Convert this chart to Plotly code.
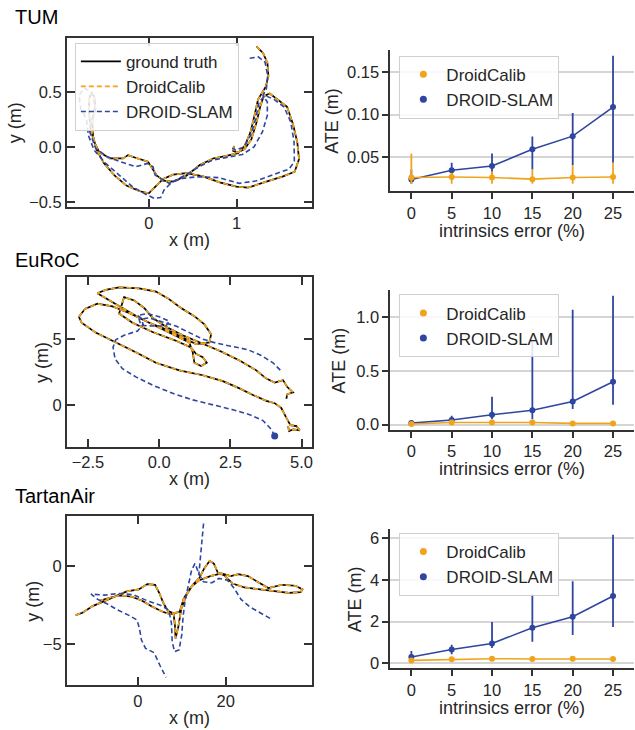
import plotly.graph_objects as go

# ---------------- data ----------------
# TUM trajectories (m)
tum_gt_x = [1.224, 1.299, 1.349, 1.360, 1.330, 1.280, 1.242, 1.205, 1.155, 1.091, 1.015, 0.883, 0.731, 0.580, 0.428, 0.277, 0.163, 0.087, -0.008, -0.159, -0.235, -0.292, -0.443, -0.565, -0.625, -0.663, -0.678, -0.678, -0.652, -0.614, -0.606, -0.640, -0.633, -0.595, -0.511, -0.386, -0.254, -0.102, 0.000, 0.068, 0.163, 0.277, 0.428, 0.617, 0.807, 0.996, 1.129, 1.337, 1.527, 1.659, 1.708, 1.689, 1.640, 1.572, 1.470, 1.375, 1.307, 1.269, 1.224, 1.167, 1.091, 1.004, 0.958, 0.970]
tum_gt_y = [0.913, 0.853, 0.763, 0.643, 0.547, 0.486, 0.432, 0.297, 0.132, 0.012, -0.054, -0.078, -0.102, -0.162, -0.258, -0.312, -0.303, -0.252, -0.132, -0.093, -0.072, -0.102, -0.102, -0.042, 0.057, 0.177, 0.312, 0.432, 0.498, 0.448, 0.342, 0.252, 0.102, -0.018, -0.144, -0.258, -0.348, -0.399, -0.417, -0.363, -0.288, -0.249, -0.234, -0.264, -0.318, -0.357, -0.366, -0.312, -0.264, -0.222, -0.108, 0.042, 0.207, 0.366, 0.432, 0.486, 0.462, 0.372, 0.222, 0.072, -0.018, -0.048, -0.033, 0.012]
tum_dc_x = list(tum_gt_x)
tum_dc_y = list(tum_gt_y)
tum_ds_x = [1.148, 1.246, 1.322, 1.352, 1.337, 1.299, 1.348, 1.348, 1.292, 1.197, 1.064, 0.913, 0.723, 0.572, 0.420, 0.269, 0.174, 0.136, 0.061, -0.034, -0.186, -0.337, -0.489, -0.621, -0.686, -0.708, -0.773, -0.792, -0.735, -0.648, -0.610, -0.640, -0.670, -0.602, -0.470, -0.318, -0.148, -0.015, 0.049, 0.072, 0.231, 0.383, 0.572, 0.799, 1.027, 1.216, 1.424, 1.595, 1.655, 1.652, 1.614, 1.538, 1.424, 1.322, 1.254, 1.216, 1.159, 1.083, 0.989, 0.951]
tum_ds_y = [0.805, 0.817, 0.769, 0.649, 0.529, 0.468, 0.408, 0.288, 0.138, 0.003, -0.066, -0.087, -0.117, -0.177, -0.252, -0.312, -0.387, -0.456, -0.462, -0.426, -0.357, -0.252, -0.147, -0.027, 0.108, 0.258, 0.348, 0.468, 0.535, 0.498, 0.378, 0.258, 0.138, -0.012, -0.087, -0.132, -0.177, -0.147, -0.177, -0.252, -0.327, -0.282, -0.267, -0.276, -0.327, -0.306, -0.246, -0.198, -0.132, 0.048, 0.228, 0.363, 0.432, 0.468, 0.408, 0.258, 0.108, 0.003, -0.027, -0.006]

# EuRoC trajectories (m)
eu_gt_x = [4.527, 4.562, 4.703, 4.938, 4.821, 4.609, 4.468, 4.292, 4.057, 3.763, 3.293, 2.823, 2.236, 1.531, 0.708, -0.115, -0.820, -1.525, -2.230, -2.723, -2.817, -2.606, -2.171, -1.642, -1.055, -0.350, 0.238, 0.826, 1.296, 1.766, 1.824, 1.589, 1.237, 0.767, 0.297, -0.115, -0.702, -1.407, -1.877, -2.171, -1.760, -1.290, -0.702, 0.003, 0.590, 1.060, 1.178, 1.237, 1.472, 1.672, 1.531, 1.296, 1.119, 0.590, -0.232, -0.937, -1.407, -1.231, -0.878, -0.526, -0.232, 0.238, 0.826, 1.413, 2.118, 2.823, 3.411, 3.763, 4.057, 4.351, 4.492, 4.703, 4.492, 4.468]
eu_gt_y = [-1.625, -2.0, -1.875, -1.95, -1.625, -1.55, -1.0, -0.25, 0.125, 0.3, 0.75, 1.25, 1.8, 2.25, 2.625, 3.2, 4.0, 4.75, 5.5, 6.25, 6.7, 7.3, 7.7, 7.5, 7.0, 6.25, 5.75, 5.125, 4.625, 4.75, 5.375, 6.125, 6.75, 7.375, 8.125, 8.625, 8.875, 8.95, 8.75, 8.5, 8.0, 7.375, 6.625, 5.875, 5.2, 4.75, 4.0, 3.2, 2.95, 3.2, 3.625, 3.875, 4.375, 4.875, 5.55, 6.25, 6.95, 8.2, 7.95, 7.375, 6.625, 5.95, 5.3, 4.75, 4.125, 3.375, 2.625, 2.0, 1.7, 1.875, 1.375, 0.95, 0.8, 0.45]
eu_dc_x = list(eu_gt_x)
eu_dc_y = list(eu_gt_y)
eu_ds_x = [4.057, 3.939, 3.646, 3.176, 2.588, 1.883, 1.178, 0.473, -0.232, -0.820, -1.290, -1.548, -1.619, -1.525, -1.231, -0.761, -0.561, -0.643, -0.761, -0.408, 0.003, 0.355, 0.238, -0.232, -0.643, -0.702, -0.350, 0.120, 0.590, 1.060, 1.531, 2.001, 2.588, 3.117, 3.587, 3.998, 4.292]
eu_ds_y = [-2.375, -1.875, -1.2, -0.75, -0.375, 0.0, 0.375, 0.875, 1.5, 2.125, 2.75, 3.5, 4.375, 4.95, 5.3, 5.625, 6.125, 6.625, 6.8, 6.95, 6.7, 6.375, 6.0, 6.0, 6.05, 6.5, 6.625, 6.3, 6.0, 5.5, 5.0, 4.7, 4.45, 4.2, 3.75, 3.2, 2.55]

# TartanAir trajectories (m)
ta_gt_x = [-14.11, -12.56, -10.23, -7.52, -5.19, -2.48, 0.23, 2.17, 3.95, 4.88, 5.81, 6.82, 8.14, 8.45, 8.60, 9.22, 9.92, 11.09, 12.48, 14.03, 15.12, 16.36, 17.29, 18.22, 19.61, 21.55, 24.26, 27.75, 31.24, 34.34, 37.05, 37.44, 35.89, 32.79, 29.69, 27.36, 25.04, 22.87, 21.16, 18.99, 16.51, 14.03, 12.02, 10.47, 9.53, 7.36, 5.66, 3.33, 1.01, -1.32, -4.03, -6.36, -8.68]
ta_gt_y = [-3.136, -2.987, -2.564, -2.225, -1.928, -1.631, -1.504, -1.165, -1.208, -1.716, -2.352, -2.860, -3.030, -3.771, -4.619, -3.877, -2.712, -1.864, -1.229, -0.763, -0.169, 0.318, 0.148, -0.445, -0.593, -1.123, -1.377, -1.504, -1.589, -1.716, -1.674, -1.504, -1.271, -1.208, -1.419, -1.017, -0.657, -0.530, -0.657, -0.487, -0.657, -0.911, -1.377, -2.076, -2.924, -3.072, -2.924, -2.606, -2.225, -1.970, -1.886, -2.034, -2.225]
ta_dc_x = list(ta_gt_x)
ta_dc_y = list(ta_gt_y)
ta_ds_x = [30.08, 27.75, 25.43, 23.49, 21.94, 20.39, 18.45, 16.90, 14.96, 14.03, 13.02, 12.25, 11.47, 10.78, 10.31, 10.00, 9.38, 8.37, 7.83, 7.67, 7.05, 5.27, 2.17, -0.93, -4.42, -7.52, -10.62, -9.07, -7.13, -4.81, -2.09, -0.16, 0.39, 0.85, 1.78, 3.72, 5.12, 6.43, None, 14.96, 14.57, 14.19, 13.88]
ta_ds_y = [-3.347, -2.987, -2.606, -2.140, -1.441, -0.911, -0.805, -1.081, -1.017, -0.593, 0.148, -0.275, -1.229, -2.182, -3.242, -4.407, -5.360, -5.466, -4.831, -3.665, -2.818, -2.521, -2.225, -1.843, -1.758, -1.864, -1.801, -2.140, -2.394, -2.775, -3.136, -3.453, -3.983, -4.725, -5.254, -5.530, -6.377, -7.097, None, 2.691, 1.631, 0.360, -0.593]

# ATE vs intrinsics error
err_pct = [0, 5, 10, 15, 20, 25]
tum_dc_mean = [0.0255, 0.026, 0.0255, 0.0235, 0.0255, 0.026]
tum_dc_lo = [0.0176, 0.018, 0.018, 0.018, 0.018, 0.018]
tum_dc_hi = [0.054, 0.031, 0.033, 0.035, 0.040, 0.043]
tum_ds_mean = [0.023, 0.034, 0.039, 0.059, 0.0745, 0.109]
tum_ds_lo = [0.018, 0.0255, 0.0255, 0.035, 0.040, 0.043]
tum_ds_hi = [0.035, 0.043, 0.054, 0.074, 0.102, 0.170]

eu_dc_mean = [0.006, 0.02, 0.02, 0.02, 0.012, 0.012]
eu_dc_lo = [0.0, 0.01, 0.01, 0.01, 0.005, 0.005]
eu_dc_hi = [0.015, 0.03, 0.03, 0.03, 0.02, 0.02]
eu_ds_mean = [0.015, 0.043, 0.092, 0.135, 0.215, 0.40]
eu_ds_lo = [0.008, 0.02, 0.05, 0.05, 0.145, 0.185]
eu_ds_hi = [0.03, 0.083, 0.26, 0.79, 1.07, 1.20]

ta_dc_mean = [0.14, 0.19, 0.22, 0.21, 0.22, 0.21]
ta_dc_lo = [0.08, 0.12, 0.14, 0.14, 0.15, 0.14]
ta_dc_hi = [0.25, 0.30, 0.32, 0.31, 0.32, 0.30]
ta_ds_mean = [0.30, 0.66, 0.95, 1.71, 2.23, 3.23]
ta_ds_lo = [0.14, 0.43, 0.74, 1.03, 1.36, 1.74]
ta_ds_hi = [0.59, 0.89, 1.98, 3.32, 3.94, 6.17]

dataset_names = ["TUM", "EuRoC", "TartanAir"]
series_names = ["ground truth", "DroidCalib", "DROID-SLAM"]

# ---------------- style ----------------
FONT = "Liberation Sans, Arial, Helvetica, sans-serif"
TXT = "#262626"
ORANGE = "#EFA41C"
BLUE = "#2F46A0"
SPINE = "#333333"
W, H = 635, 730

def px_x(p):
    return p / W

def px_y(p):
    return 1 - p / H

fig = go.Figure()

traj_sets = [
    (tum_gt_x, tum_gt_y, tum_dc_x, tum_dc_y, tum_ds_x, tum_ds_y),
    (eu_gt_x, eu_gt_y, eu_dc_x, eu_dc_y, eu_ds_x, eu_ds_y),
    (ta_gt_x, ta_gt_y, ta_dc_x, ta_dc_y, ta_ds_x, ta_ds_y),
]
ate_sets = [
    (tum_dc_mean, tum_dc_lo, tum_dc_hi, tum_ds_mean, tum_ds_lo, tum_ds_hi),
    (eu_dc_mean, eu_dc_lo, eu_dc_hi, eu_ds_mean, eu_ds_lo, eu_ds_hi),
    (ta_dc_mean, ta_dc_lo, ta_dc_hi, ta_ds_mean, ta_ds_lo, ta_ds_hi),
]

# layout geometry (pixels)
left_box = [(38, 208), (279, 449), (519, 689)]
right_box = [(50, 192), (292, 432), (532, 672)]
traj_xrange = [[-0.93, 1.85], [-3.24, 5.35], [-16.1, 39.5]]
traj_yrange = [[-0.54, 0.99], [-3.18, 9.70], [-7.6, 3.16]]
traj_xticks = [[0, 1], [-2.5, 0, 2.5, 5.0], [0, 20]]
traj_yticks = [[-0.5, 0, 0.5], [0, 5], [-5, 0]]
traj_xfmt = ["d", ".1f", "d"]
traj_yfmt = [".1f", "d", "d"]
ate_yrange = [[0.0095, 0.177], [-0.046, 1.25], [-0.24, 6.44]]
ate_yticks = [[0.05, 0.10, 0.15], [0.0, 0.5, 1.0], [0, 2, 4, 6]]
ate_yfmt = [".2f", ".1f", "d"]
ylab_left_x = [15, 42, 33]
ylab_right_x = [333, 340, 355]
title_y = [17, 261, 499]
legend_top = [56, 296, 536]

annotations = []
for r in range(3):
    la = 2 * r + 1   # left axis index
    ra = 2 * r + 2   # right axis index
    lx = "x" if la == 1 else f"x{la}"
    ly = "y" if la == 1 else f"y{la}"
    rx = f"x{ra}"
    ry = f"y{ra}"
    gx, gy, dcx, dcy, dsx, dsy = traj_sets[r]
    show = (r == 0)
    fig.add_trace(go.Scatter(x=gx, y=gy, mode="lines", name=series_names[0],
                             line=dict(color="black", width=1.7), xaxis=lx, yaxis=ly,
                             showlegend=show, legend="legend"))
    fig.add_trace(go.Scatter(x=dcx, y=dcy, mode="lines", name=series_names[1],
                             line=dict(color=ORANGE, width=1.7, dash="5px,3px"), xaxis=lx, yaxis=ly,
                             showlegend=show, legend="legend"))
    fig.add_trace(go.Scatter(x=dsx, y=dsy, mode="lines", name=series_names[2],
                             line=dict(color=BLUE, width=1.6, dash="5px,3px"), xaxis=lx, yaxis=ly,
                             connectgaps=False, showlegend=show, legend="legend"))
    if r == 1:
        fig.add_trace(go.Scatter(x=[dsx[0]], y=[dsy[0]], mode="markers",
                                 marker=dict(color=BLUE, size=7), xaxis=lx, yaxis=ly,
                                 showlegend=False))

    dcm, dcl, dch, dsm, dsl, dsh = ate_sets[r]
    leg = f"legend{r + 2}"
    fig.add_trace(go.Scatter(
        x=err_pct, y=dsm, mode="lines+markers", name=series_names[2],
        line=dict(color=BLUE, width=1.6), marker=dict(color=BLUE, size=6),
        error_y=dict(type="data", symmetric=False,
                     array=[h - m for h, m in zip(dsh, dsm)],
                     arrayminus=[m - l for m, l in zip(dsm, dsl)],
                     color=BLUE, thickness=1.8, width=0),
        xaxis=rx, yaxis=ry, showlegend=False))
    fig.add_trace(go.Scatter(
        x=err_pct, y=dcm, mode="lines+markers", name=series_names[1],
        line=dict(color=ORANGE, width=1.6), marker=dict(color=ORANGE, size=6),
        error_y=dict(type="data", symmetric=False,
                     array=[h - m for h, m in zip(dch, dcm)],
                     arrayminus=[m - l for m, l in zip(dcm, dcl)],
                     color=ORANGE, thickness=1.8, width=0),
        xaxis=rx, yaxis=ry, showlegend=False))
    # legend entries (marker only)
    fig.add_trace(go.Scatter(x=[None], y=[None], mode="markers", name=series_names[1],
                             marker=dict(color=ORANGE, size=7), xaxis=rx, yaxis=ry,
                             legend=leg, showlegend=True))
    fig.add_trace(go.Scatter(x=[None], y=[None], mode="markers", name=series_names[2],
                             marker=dict(color=BLUE, size=7), xaxis=rx, yaxis=ry,
                             legend=leg, showlegend=True))

    t0, t1 = left_box[r]
    common_box = dict(showline=True, linecolor=SPINE, linewidth=2, mirror="ticks",
                      ticks="inside", ticklen=8, tickwidth=1.8, tickcolor=SPINE,
                      showgrid=False, zeroline=False,
                      tickfont=dict(family=FONT, size=16.5, color=TXT))
    fig.update_layout({
        ("xaxis" if la == 1 else f"xaxis{la}"): dict(
            domain=[px_x(67), px_x(312)], anchor=ly, range=traj_xrange[r],
            tickvals=traj_xticks[r], tickformat=traj_xfmt[r], **common_box),
        ("yaxis" if la == 1 else f"yaxis{la}"): dict(
            domain=[px_y(t1), px_y(t0)], anchor=lx, range=traj_yrange[r],
            tickvals=traj_yticks[r], tickformat=traj_yfmt[r], **common_box),
    })
    s0, s1 = right_box[r]
    common_ate = dict(showline=True, linecolor=SPINE, linewidth=2, mirror=False,
                      ticks="outside", ticklen=6, tickwidth=1.8, tickcolor=SPINE,
                      zeroline=False, tickfont=dict(family=FONT, size=16.5, color=TXT))
    fig.update_layout({
        f"xaxis{ra}": dict(domain=[px_x(391), 1.0], anchor=ry, range=[-2.6, 27.6],
                           tickvals=err_pct, showgrid=False, **common_ate),
        f"yaxis{ra}": dict(domain=[px_y(s1), px_y(s0)], anchor=rx, range=ate_yrange[r],
                           tickvals=ate_yticks[r], tickformat=ate_yfmt[r],
                           showgrid=True, gridcolor="#d5d5d5", gridwidth=1.5, **common_ate),
        leg: dict(x=px_x(400), y=px_y(legend_top[r]), xanchor="left", yanchor="top",
                  bgcolor="rgba(255,255,255,0.85)", bordercolor="#d0d0d0", borderwidth=1,
                  font=dict(family=FONT, size=17, color=TXT), traceorder="normal",
                  itemwidth=36),
    })

    # titles and axis labels
    annotations.append(dict(text=dataset_names[r], x=px_x(13), y=px_y(title_y[r]),
                            xref="paper", yref="paper", xanchor="left", yanchor="middle",
                            showarrow=False, font=dict(family=FONT, size=20, color="black")))
    annotations.append(dict(text="x (m)", x=px_x(189.5), y=px_y(t1 + 33),
                            xref="paper", yref="paper", xanchor="center", yanchor="middle",
                            showarrow=False, font=dict(family=FONT, size=18, color=TXT)))
    annotations.append(dict(text="y (m)", x=px_x(ylab_left_x[r]), y=px_y((t0 + t1) / 2),
                            xref="paper", yref="paper", xanchor="center", yanchor="middle",
                            textangle=-90, showarrow=False,
                            font=dict(family=FONT, size=18, color=TXT)))
    annotations.append(dict(text="intrinsics error (%)", x=px_x(513), y=px_y(s1 + 40),
                            xref="paper", yref="paper", xanchor="center", yanchor="middle",
                            showarrow=False, font=dict(family=FONT, size=18, color=TXT)))
    annotations.append(dict(text="ATE (m)", x=px_x(ylab_right_x[r]), y=px_y((s0 + s1) / 2),
                            xref="paper", yref="paper", xanchor="center", yanchor="middle",
                            textangle=-90, showarrow=False,
                            font=dict(family=FONT, size=18, color=TXT)))

fig.update_layout(
    width=W, height=H,
    margin=dict(l=0, r=0, t=0, b=0),
    paper_bgcolor="white", plot_bgcolor="white",
    font=dict(family=FONT, size=16, color=TXT),
    legend=dict(x=px_x(75), y=px_y(43), xanchor="left", yanchor="top",
                bgcolor="rgba(255,255,255,0.85)", bordercolor="#d0d0d0", borderwidth=1,
                font=dict(family=FONT, size=17, color=TXT), traceorder="normal",
                itemwidth=40),
    annotations=annotations,
)

fig.write_html("out.html", config={"displayModeBar": False},
               post_script="document.body.style.margin='0px';document.body.style.padding='0px';")
